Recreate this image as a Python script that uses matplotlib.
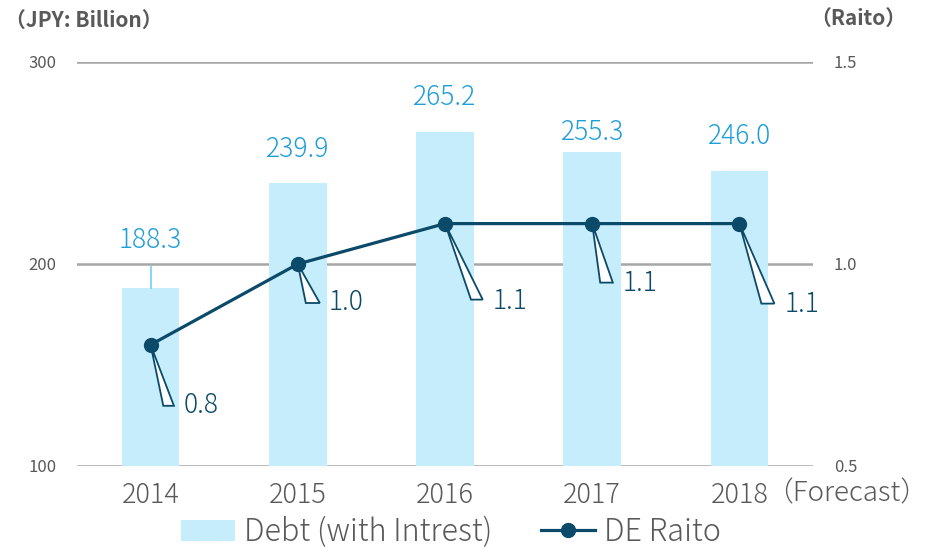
import matplotlib
matplotlib.use("Agg")
import matplotlib.pyplot as plt
from matplotlib.patches import Polygon, Patch
from matplotlib.lines import Line2D
from matplotlib.transforms import IdentityTransform

plt.rcParams['font.family'] = ['Noto Sans CJK JP', 'DejaVu Sans']

# ---- data ----
years = ["2014", "2015", "2016", "2017", "2018"]
debt = [188.3, 239.9, 265.2, 255.3, 246.0]
de_ratio = [0.8, 1.0, 1.1, 1.1, 1.1]
debt_labels = ["188.3", "239.9", "265.2", "255.3", "246.0"]
ratio_labels = ["0.8", "1.0", "1.1", "1.1", "1.1"]
left_ticks = [100, 200, 300]
right_ticks = [0.5, 1.0, 1.5]
right_ticklabels = ["0.5", "1.0", "1.5"]

# ---- layout (pixels) ----
value_label_gap = [48, 34, 35, 20, 35]          # label centre above bar top
callout_tri = [((12.7, 61), (23.3, 61)), ((8, 39), (22, 39)), ((26, 76), (37.7, 76)),
               ((8, 59), (20.6, 59)), ((22, 80), (35, 80))]
callout_text = [(33, 60), (31, 38), (47.7, 77), (30, 59), (45, 80)]

bar_color = "#c6edfc"
line_color = "#0b4a68"
val_color = "#1f9fd9"
tick_color = "#595959"
grid_color = "#a6a6a6"

W, H = 930, 549
fig = plt.figure(figsize=(W / 100, H / 100), dpi=100)
ax = fig.add_axes([77 / W, (H - 466) / H, 736 / W, 404 / H])
ax2 = ax.twinx()

x = list(range(len(years)))
ax.bar(x, debt, width=0.39, color=bar_color, zorder=2)
ax.set_xlim(-0.5, 4.5)
ax.set_ylim(100, 300)
ax.set_yticks(left_ticks)
ax.set_yticklabels([str(t) for t in left_ticks])
for t in left_ticks:
    ax.axhline(t, color=grid_color, lw=1.8, zorder=1)
for s in ax.spines.values():
    s.set_visible(False)
for s in ax2.spines.values():
    s.set_visible(False)
ax.tick_params(axis='y', length=0, pad=15, labelsize=12, labelcolor=tick_color)
ax.set_xticks(x)
ax.set_xticklabels(years)
ax.tick_params(axis='x', length=0, pad=11, labelsize=19.5, labelcolor=tick_color)
for lab in ax.get_xticklabels():
    lab.set_fontweight('light')

ax2.set_ylim(0.5, 1.5)
ax2.set_yticks(right_ticks)
ax2.set_yticklabels(right_ticklabels)
ax2.tick_params(axis='y', length=0, pad=15, labelsize=12, labelcolor=tick_color)
ax2.plot(x, de_ratio, color=line_color, lw=2.3, marker='o', markersize=10, zorder=5)

fig.canvas.draw()

# value labels above bars
for i, (v, lab) in enumerate(zip(debt, debt_labels)):
    px, py = ax.transData.transform((i, v))
    fig.text(px / W, (py + value_label_gap[i]) / H, lab, ha='center', va='center',
             fontsize=19, color=val_color, fontweight='light')
# leader line for first label
px, py = ax.transData.transform((0, debt[0]))
ax.add_line(Line2D([px, px], [py, py + 21], transform=IdentityTransform(),
                   color="#8fd3f5", lw=1.5, zorder=3))

# callouts for ratio
for i, (r, lab) in enumerate(zip(de_ratio, ratio_labels)):
    px, py = ax2.transData.transform((i, r))
    (a, b) = callout_tri[i]
    poly = Polygon([(px, py), (px + a[0], py - a[1]), (px + b[0], py - b[1])],
                   closed=True, transform=IdentityTransform(), facecolor='white',
                   edgecolor=line_color, lw=1.3, zorder=4)
    ax2.add_patch(poly)
    tx, ty = callout_text[i]
    fig.text((px + tx) / W, (py - ty) / H, lab, ha='left', va='center',
             fontsize=19, color=line_color, fontweight='light')

# forecast note
px, py = ax.transData.transform((4, 100))
fig.text((px + 26) / W, (H - 493) / H, "（Forecast）", ha='left', va='center',
         fontsize=20, color=tick_color, fontweight='light')

# unit headers
fig.text(5 / W, (H - 20) / H, "（JPY: Billion）", ha='left', va='center',
         fontsize=15, fontweight='bold', color=tick_color)
fig.text(810 / W, (H - 18) / H, "（Raito）", ha='left', va='center',
         fontsize=15, fontweight='bold', color=tick_color)

# legend
handles = [Patch(facecolor=bar_color, edgecolor='none'),
           Line2D([0], [0], color=line_color, lw=2.3, marker='o', markersize=10)]
leg = fig.legend(handles, ["Debt (with Intrest)", "DE Raito"], loc='center',
                 bbox_to_anchor=(451 / W, (H - 532) / H), ncol=2, frameon=False,
                 borderpad=0.1,
                 handlelength=1.75, handleheight=0.7, handletextpad=0.3, columnspacing=1.6,
                 prop={'size': 22, 'weight': 'light',
                       'family': ['Noto Sans CJK JP', 'DejaVu Sans']})
for t in leg.get_texts():
    t.set_color(tick_color)

fig.savefig("out.png", dpi=100)
